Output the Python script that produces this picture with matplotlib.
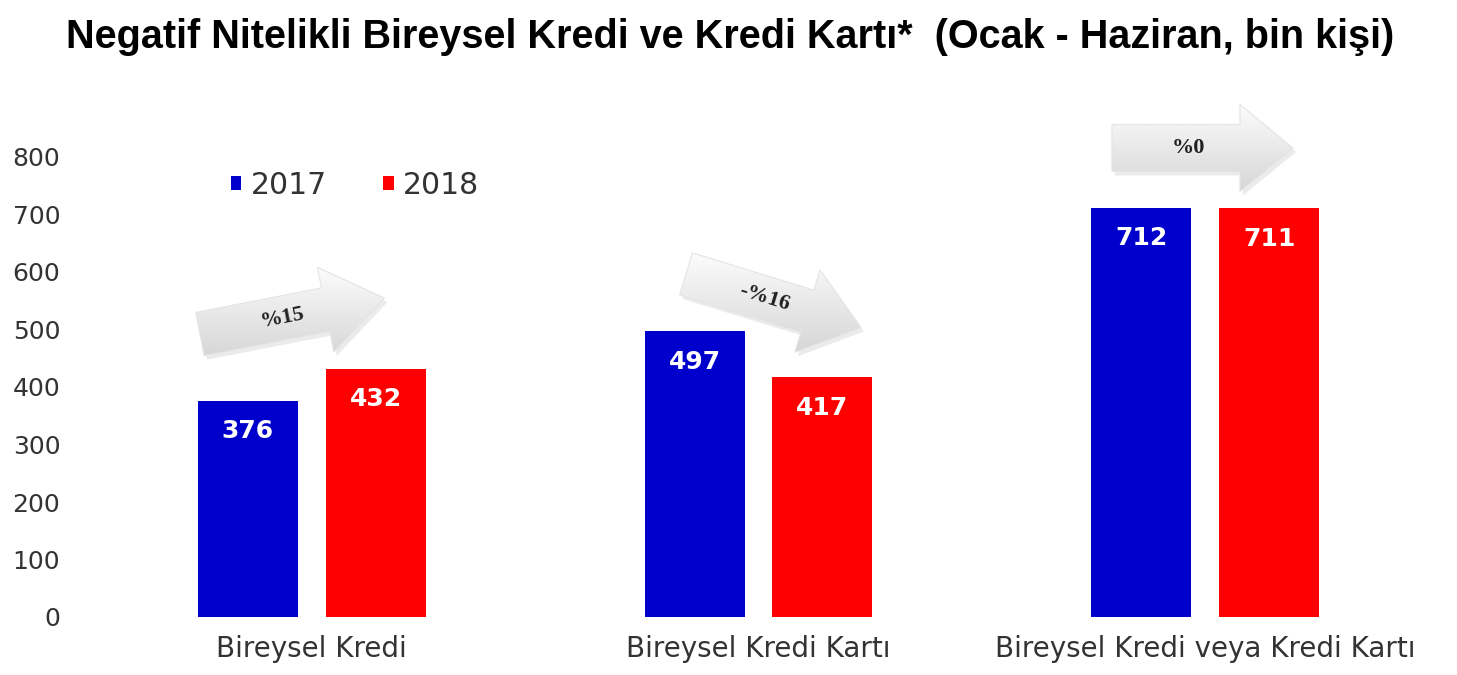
import matplotlib
matplotlib.use('Agg')
import matplotlib.pyplot as plt
import numpy as np
from matplotlib.patches import Polygon

categories = ['Bireysel Kredi', 'Bireysel Kredi Kartı', 'Bireysel Kredi veya Kredi Kartı']
series_names = ['2017', '2018']
values_2017 = [376, 497, 712]
values_2018 = [432, 417, 711]
change_labels = ['%15', '-%16', '%0']
yticks = [0, 100, 200, 300, 400, 500, 600, 700, 800]
title = 'Negatif Nitelikli Bireysel Kredi ve Kredi Kartı*  (Ocak - Haziran, bin kişi)'

BLUE = '#0000CC'
RED = '#FF0000'
TXT = '#333333'

W, H = 1457, 675
fig = plt.figure(figsize=(W / 100, H / 100), dpi=100)
fig.patch.set_facecolor('white')

ax = fig.add_axes([70 / W, (H - 617) / H, (1440 - 70) / W, (617 - 99.5) / H])
x = np.arange(len(categories))
off = 64 / 447
bw = 100 / 447
b1 = ax.bar(x - off, values_2017, bw, color=BLUE, label=series_names[0], zorder=2)
b2 = ax.bar(x + off, values_2018, bw, color=RED, label=series_names[1], zorder=2)
ax.set_xlim(-242 / 447, 2 + 235 / 447)
ax.set_ylim(0, 900)
ax.set_yticks(yticks)
ax.set_yticklabels([str(t) for t in yticks], fontsize=18, color=TXT, family='DejaVu Sans')
ax.set_xticks(x)
ax.set_xticklabels(categories, fontsize=20, color=TXT, family='DejaVu Sans')
for s in ax.spines.values():
    s.set_visible(False)
ax.tick_params(axis='both', length=0)
ax.tick_params(axis='y', pad=7)
ax.tick_params(axis='x', pad=13)

for bars, vals in ((b1, values_2017), (b2, values_2018)):
    for rect, v in zip(bars, vals):
        ax.annotate(str(v), (rect.get_x() + rect.get_width() / 2, v),
                    xytext=(0, -22), textcoords='offset points',
                    ha='center', va='center', color='white',
                    fontsize=18, fontweight='bold', family='DejaVu Sans', zorder=3)

ax.legend(handles=[b1, b2], loc='center left',
          bbox_to_anchor=(231 / W, 1 - 185 / H), bbox_transform=fig.transFigure,
          ncol=2, frameon=False, handlelength=0.35, handleheight=0.35,
          handletextpad=0.3, columnspacing=1.9, borderpad=0, borderaxespad=0,
          labelcolor=TXT, prop={'family': 'DejaVu Sans', 'size': 21.5})

fig.text(730 / W, 1 - 37 / H, title, ha='center', va='center', fontsize=28.5,
         fontweight='bold', family='Liberation Sans', color='black')

# overlay for decorative change arrows (pixel coordinates)
ov = fig.add_axes([0, 0, 1, 1], zorder=5)
ov.set_xlim(0, W)
ov.set_ylim(H, 0)
ov.axis('off')
ov.patch.set_alpha(0)


def arrow_pts(x0, y0, L, ang, bwid, hwid, hlen):
    pts = np.array([(0, -bwid / 2), (L - hlen, -bwid / 2), (L - hlen, -hwid / 2), (L, 0),
                    (L - hlen, hwid / 2), (L - hlen, bwid / 2), (0, bwid / 2)])
    a = np.deg2rad(ang)
    R = np.array([[np.cos(a), -np.sin(a)], [np.sin(a), np.cos(a)]])
    p = pts @ R.T
    p[:, 1] *= -1  # y down in pixel space: positive ang means upward
    return p + np.array([x0, y0])


arrows = [
    dict(x0=200, y0=334, L=188, ang=11, bwid=44, hwid=86, hlen=60, tx=0.45),
    dict(x0=686, y0=274, L=183, ang=-17, bwid=44, hwid=86, hlen=56, tx=0.45),
    dict(x0=1112, y0=148, L=181, ang=0, bwid=47, hwid=87, hlen=53, tx=0.42),
]
grad = np.linspace(0.985, 0.84, 64).reshape(-1, 1)
for a, lab in zip(arrows, change_labels):
    p = arrow_pts(a['x0'], a['y0'], a['L'], a['ang'], a['bwid'], a['hwid'], a['hlen'])
    shadow = Polygon(p + np.array([3, 4]), closed=True, facecolor='#d8d8d8', edgecolor='none',
                     alpha=0.5, zorder=1)
    ov.add_patch(shadow)
    poly = Polygon(p, closed=True, facecolor='none', edgecolor='#e4e4e4', lw=0.8, zorder=3)
    ov.add_patch(poly)
    xmn, ymn = p.min(axis=0)
    xmx, ymx = p.max(axis=0)
    im = ov.imshow(grad, cmap='gray', vmin=0, vmax=1, aspect='auto',
                   extent=[xmn, xmx, ymx, ymn], origin='upper', zorder=2)
    clip = Polygon(p, closed=True, transform=ov.transData)
    im.set_clip_path(clip)
    ang = np.deg2rad(a['ang'])
    tx = a['x0'] + a['tx'] * a['L'] * np.cos(ang)
    ty = a['y0'] - a['tx'] * a['L'] * np.sin(ang)
    ov.text(tx, ty, lab, rotation=a['ang'], rotation_mode='anchor', ha='center', va='center',
            fontsize=16, fontweight='bold', family='Liberation Serif', color='#202020', zorder=4)
ov.set_xlim(0, W)
ov.set_ylim(H, 0)

fig.savefig('out.png', dpi=100, facecolor='white')
